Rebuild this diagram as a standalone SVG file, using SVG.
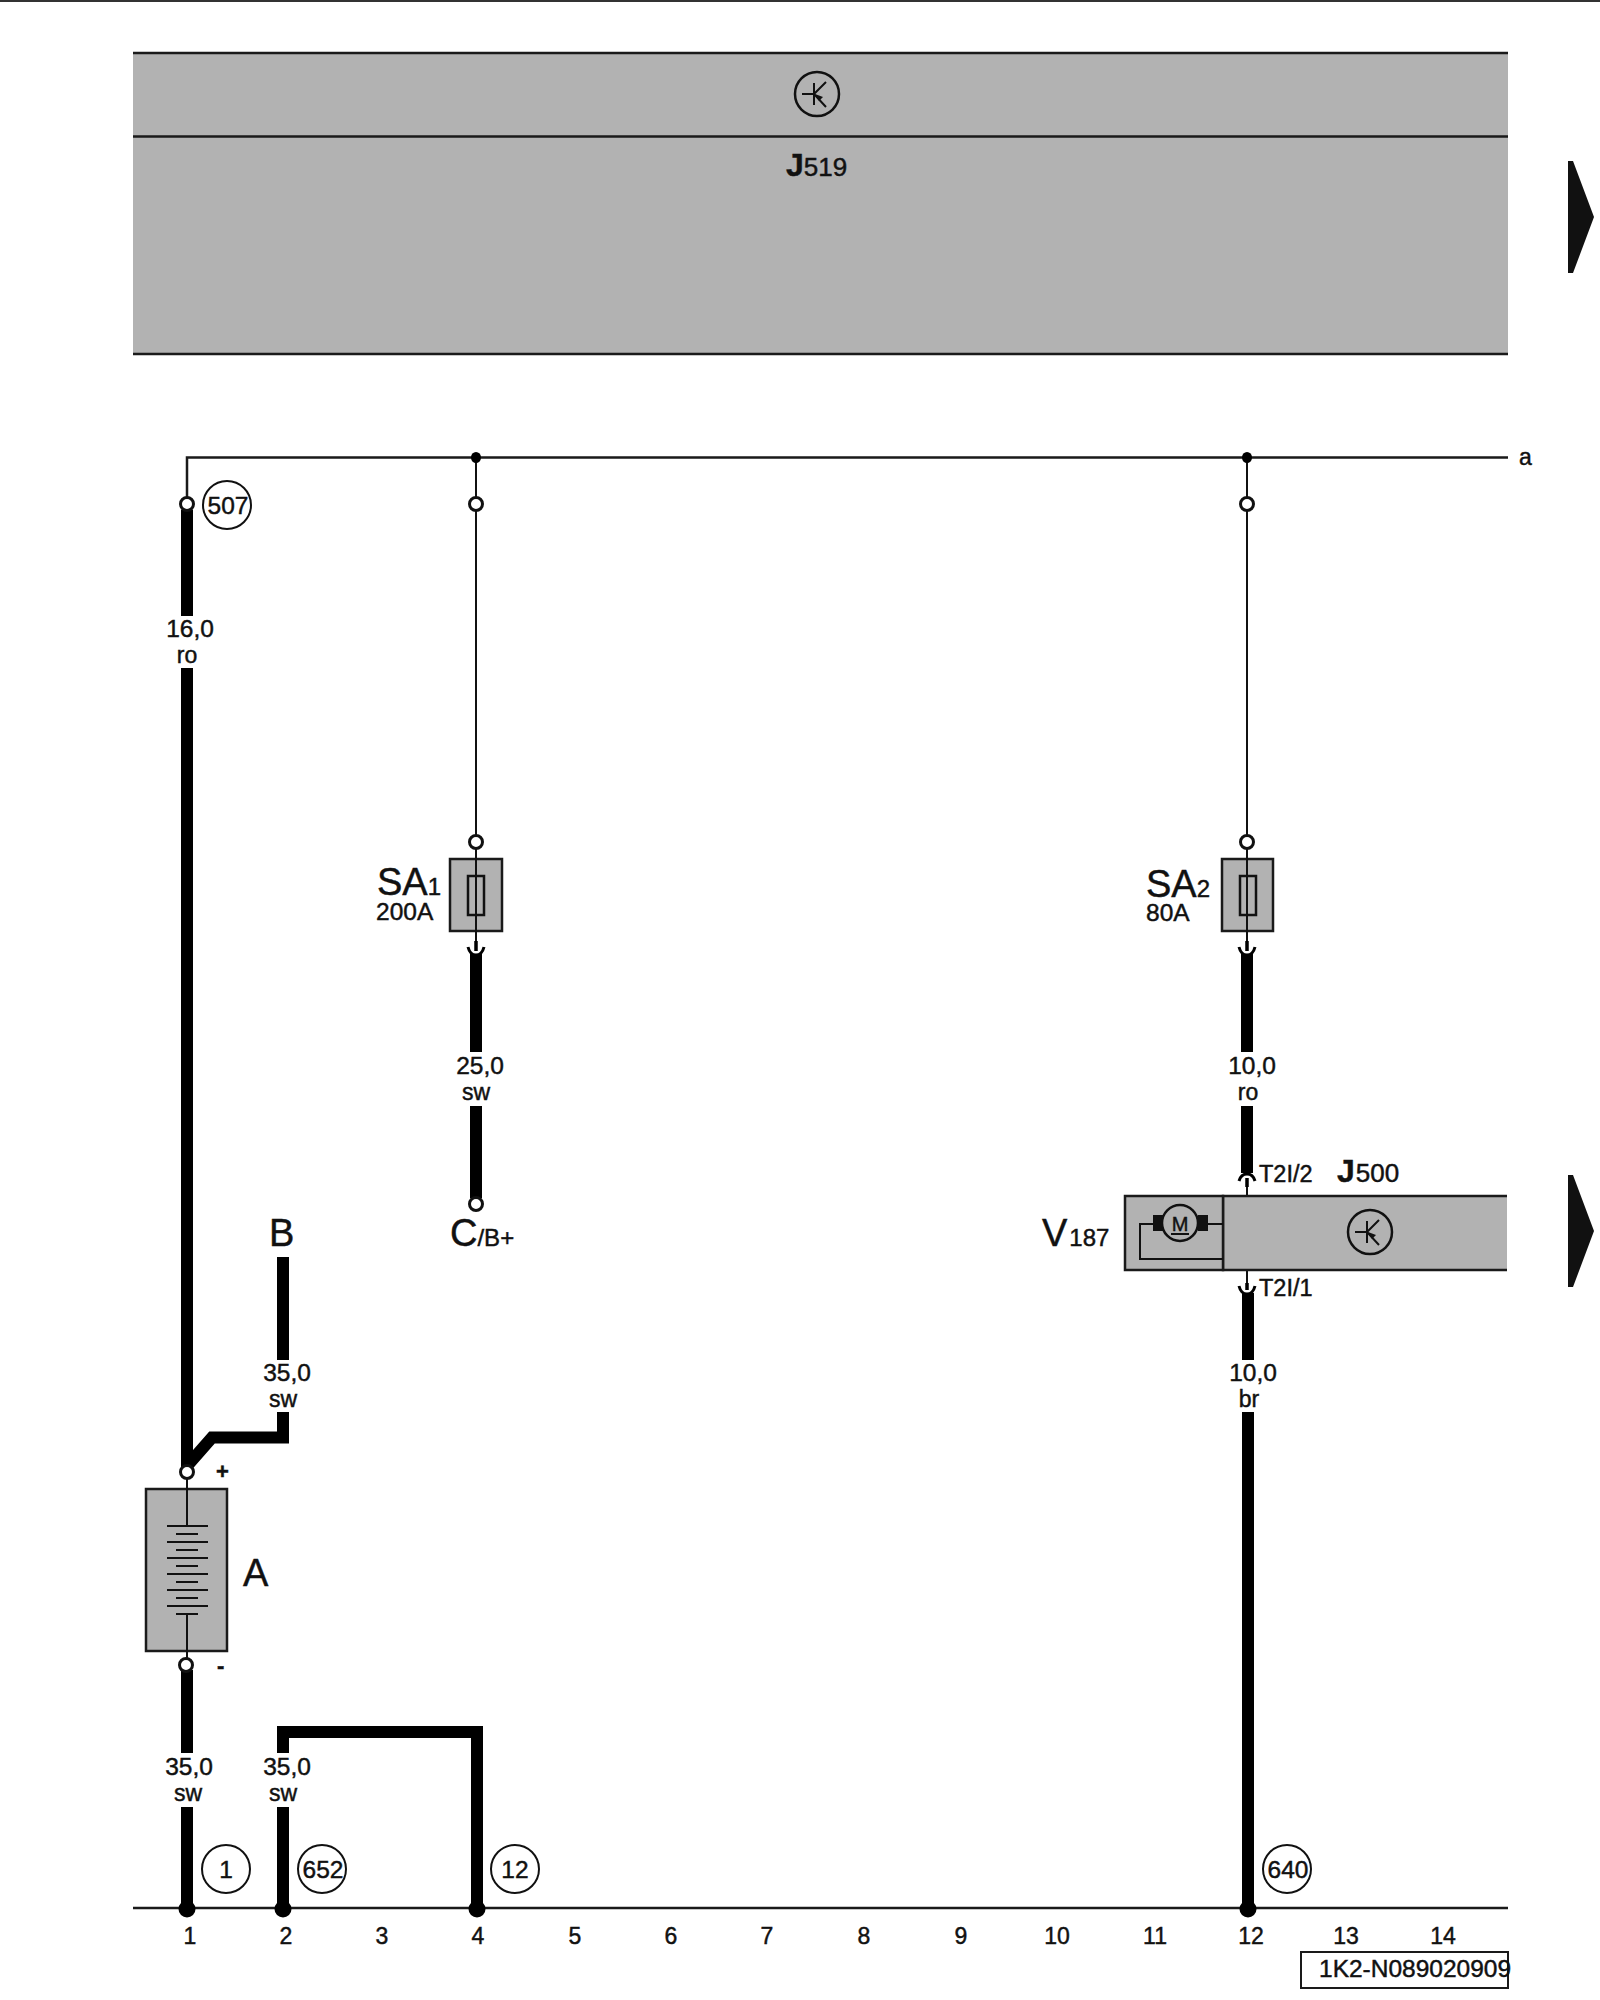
<svg xmlns="http://www.w3.org/2000/svg" width="1600" height="2000" viewBox="0 0 1600 2000">
<style>
text{font-family:"Liberation Sans",Arial,sans-serif;fill:#111;stroke:#111;stroke-width:.45px}
.g{fill:#b2b2b2;stroke:#1a1a1a;stroke-width:2.5}
.l{fill:none;stroke:#1a1a1a;stroke-width:2.5}
.t{fill:none;stroke:#111;stroke-width:2}
.w{fill:none;stroke:#000;stroke-width:12}
.n{fill:#fff;stroke:#111;stroke-width:3}
.d{fill:#000}
.c{fill:#fff;stroke:#111;stroke-width:2}
.m{font-size:24.5px;text-anchor:middle}
.s{font-size:23px;text-anchor:middle}
.big{font-size:38px}
.sub{font-size:24px}
.bj{font-size:32px;font-weight:bold}
.bs{font-size:26px}
.pin{fill:none;stroke:#000;stroke-width:3.5}
.cup{fill:none;stroke:#000;stroke-width:3}
</style>
<defs>
<g id="tr">
<circle r="22" fill="none" stroke="#111" stroke-width="2.5"/>
<path d="M-15,0H-3M-3,-11V11M-3,0L9,-12M-3,0L9,13" fill="none" stroke="#111" stroke-width="2"/>
<path d="M-2,0L6,3L2,7Z" fill="#111"/>
</g>
<g id="arr"><path d="M0,0L5,0L26,56L5,112L0,112Z" fill="#111"/></g>
</defs>
<path d="M0,1H1600" stroke="#333" stroke-width="2"/>

<g id="J519">
<rect x="133" y="53" width="1375" height="301" fill="#b2b2b2"/>
<path d="M133,53H1508M133,136.500H1508M133,354H1508" class="l"/>
<use href="#tr" x="817" y="94"/>
<text x="786" y="176"><tspan class="bj">J</tspan><tspan class="bs">519</tspan></text>
</g>
<g id="arrow-top"><use href="#arr" x="1568" y="161"/></g>
<g id="arrow-mid"><use href="#arr" x="1568" y="1175"/></g>

<g id="connectors">
<path d="M187,504V457.500H1508" class="l"/>
<path d="M476,457.500V941" class="t"/>
<path d="M1247,457.500V941" class="t"/>
<path d="M476,941V951M1247,941V951" class="pin"/>
<path d="M468,947Q470,955 476,955Q482,955 484,947M1239,947Q1241,955 1247,955Q1253,955 1255,947" class="cup"/>
<path d="M187,510V616M187,668V1472" class="w"/>
<path d="M187,1466L212,1437.500H283V1412M283,1360V1257" class="w"/>
<path d="M476,954V1052M476,1106V1198" class="w"/>
<path d="M1247,954V1052M1247,1106V1173" class="w"/>
<path d="M1239,1181Q1241,1174 1247,1174Q1253,1174 1255,1181" class="cup"/>
<path d="M1247,1178V1187" class="pin"/>
<path d="M1247,1187V1196" class="t"/>
<path d="M1247,1270V1283" class="t"/>
<path d="M1247,1283V1290" class="pin"/>
<path d="M1239,1286Q1241,1294 1247,1294Q1253,1294 1255,1286" class="cup"/>
<path d="M1248,1293V1360M1248,1412V1909" class="w"/>
<path d="M187,1670V1753M187,1807V1909" class="w"/>
<path d="M283,1753V1732H477V1909M283,1807V1909" class="w"/>
<path d="M133,1908H1508" class="l"/>
</g>

<g id="splices">
<ellipse cx="476" cy="457.500" rx="5" ry="5.500" class="d"/>
<ellipse cx="1247" cy="457.500" rx="5" ry="5.500" class="d"/>
<circle cx="187" cy="1909" r="8.500" class="d"/>
<circle cx="283" cy="1909" r="8.500" class="d"/>
<circle cx="477" cy="1909" r="8.500" class="d"/>
<circle cx="1248" cy="1909" r="8.500" class="d"/>
</g>

<g id="terminals">
<circle cx="187" cy="504" r="6.500" class="n"/>
<circle cx="476" cy="504" r="6.500" class="n"/>
<circle cx="1247" cy="504" r="6.500" class="n"/>
<circle cx="476" cy="842" r="6.500" class="n"/>
<circle cx="1247" cy="842" r="6.500" class="n"/>
<circle cx="476" cy="1204" r="6.500" class="n"/>
<circle cx="187" cy="1472" r="6.500" class="n"/>
<circle cx="186" cy="1665" r="6.500" class="n"/>
</g>

<g id="SA1">
<rect x="450" y="859" width="52" height="72" class="g"/>
<rect x="468" y="876" width="16" height="39" fill="none" stroke="#111" stroke-width="2.500"/>
<path d="M476,849V941" class="t"/>
<text x="377" y="895"><tspan class="big">SA</tspan><tspan class="sub">1</tspan></text>
<text x="376" y="920" font-size="24.500">200A</text>
</g>
<g id="SA2">
<rect x="1222" y="859" width="51" height="72" class="g"/>
<rect x="1240" y="876" width="16" height="39" fill="none" stroke="#111" stroke-width="2.500"/>
<path d="M1247,849V941" class="t"/>
<text x="1146" y="897"><tspan class="big">SA</tspan><tspan class="sub">2</tspan></text>
<text x="1146" y="921" font-size="24.500">80A</text>
</g>

<g id="J500">
<path d="M1223,1196H1507V1270H1223Z" fill="#b2b2b2"/>
<path d="M1507,1196H1223V1270H1507" class="l"/>
<use href="#tr" x="1370" y="1232"/>
<text x="1337" y="1182"><tspan class="bj">J</tspan><tspan class="bs" dx="1">500</tspan></text>
<text x="1259" y="1182" font-size="23.500">T2I/2</text>
<text x="1259" y="1296" font-size="23.500">T2I/1</text>
</g>
<g id="V187">
<rect x="1125" y="1196" width="98" height="74" class="g"/>
<path d="M1153,1224H1140V1259H1223M1208,1224H1223" class="t"/>
<rect x="1153" y="1215" width="10" height="16" fill="#111"/>
<rect x="1198" y="1215" width="10" height="16" fill="#111"/>
<circle cx="1180" cy="1223" r="18" fill="#b2b2b2" stroke="#111" stroke-width="2.500"/>
<text x="1180" y="1231" font-size="20" font-family="Liberation Sans" text-anchor="middle" style="font-family:'Liberation Sans',sans-serif">M</text>
<path d="M1171,1234H1189" stroke="#111" stroke-width="2"/>
<text x="1042" y="1246"><tspan class="big">V</tspan><tspan class="sub" dx="2">187</tspan></text>
</g>

<g id="A">
<rect x="146" y="1489" width="81" height="162" class="g"/>
<path d="M187,1479V1526M187,1614V1658" class="t"/>
<path d="M167,1526H208M176,1534H198M167,1542H208M176,1550H198M167,1558H208M176,1566H198M167,1574H208M176,1582H198M167,1590H208M176,1598H198M167,1606H208M176,1614H198" class="t"/>
<text x="243" y="1586" class="big">A</text>
<text x="216" y="1479" font-size="22" font-weight="bold">+</text>
<text x="217" y="1673" font-size="22" font-weight="bold">-</text>
</g>
<g id="B"><text x="269" y="1246" class="big">B</text></g>
<g id="C"><text x="450" y="1246"><tspan class="big">C</tspan><tspan class="sub">/B+</tspan></text></g>
<g id="a"><text x="1519" y="465" font-size="23">a</text></g>

<g id="wire-labels">
<text x="190" y="637" class="m">16,0</text><text x="187" y="663" class="s">ro</text>
<text x="480" y="1074" class="m">25,0</text><text x="476" y="1100" class="s">sw</text>
<text x="1252" y="1074" class="m">10,0</text><text x="1248" y="1100" class="s">ro</text>
<text x="287" y="1381" class="m">35,0</text><text x="283" y="1407" class="s">sw</text>
<text x="1253" y="1381" class="m">10,0</text><text x="1249" y="1407" class="s">br</text>
<text x="189" y="1775" class="m">35,0</text><text x="188" y="1801" class="s">sw</text>
<text x="287" y="1775" class="m">35,0</text><text x="283" y="1801" class="s">sw</text>
</g>

<g id="ref-507"><circle cx="227" cy="505" r="24" class="c"/><text x="228" y="514" class="m">507</text></g>
<g id="ref-1"><circle cx="226" cy="1869" r="24" class="c"/><text x="226" y="1878" class="m">1</text></g>
<g id="ref-652"><circle cx="322" cy="1869" r="24" class="c"/><text x="323" y="1878" class="m">652</text></g>
<g id="ref-12"><circle cx="515" cy="1869" r="24" class="c"/><text x="515" y="1878" class="m">12</text></g>
<g id="ref-640"><circle cx="1287" cy="1869" r="24" class="c"/><text x="1288" y="1878" class="m">640</text></g>

<g id="columns">
<text x="190" y="1944" class="s">1</text><text x="286" y="1944" class="s">2</text><text x="382" y="1944" class="s">3</text><text x="478" y="1944" class="s">4</text><text x="575" y="1944" class="s">5</text><text x="671" y="1944" class="s">6</text><text x="767" y="1944" class="s">7</text><text x="864" y="1944" class="s">8</text><text x="961" y="1944" class="s">9</text><text x="1057" y="1944" class="s">10</text><text x="1155" y="1944" class="s">11</text><text x="1251" y="1944" class="s">12</text><text x="1346" y="1944" class="s">13</text><text x="1443" y="1944" class="s">14</text>
</g>
<g id="footer">
<rect x="1301" y="1952" width="207" height="36" fill="none" stroke="#1a1a1a" stroke-width="2"/>
<text x="1319" y="1977" font-size="24.500">1K2-N089020909</text>
</g>
</svg>
